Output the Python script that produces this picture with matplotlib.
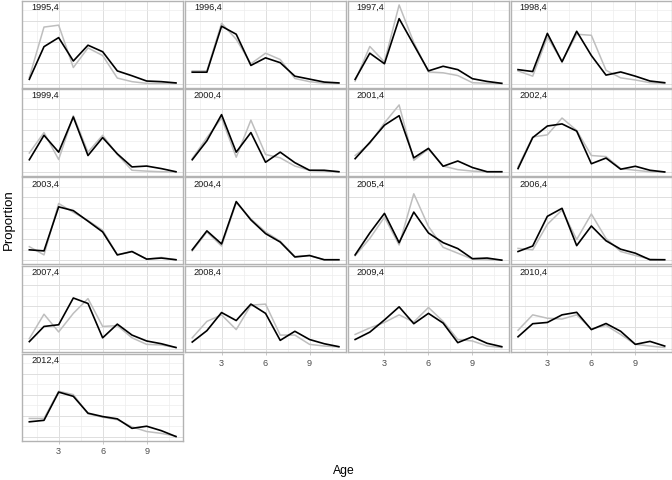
import matplotlib
matplotlib.use("Agg")
import matplotlib.pyplot as plt
from matplotlib.ticker import FixedLocator

plt.rcParams['font.family'] = ['Liberation Sans', 'DejaVu Sans']

ages = [1, 2, 3, 4, 5, 6, 7, 8, 9, 10, 11]
years = ["1995,4", "1996,4", "1997,4", "1998,4", "1999,4", "2000,4", "2001,4", "2002,4",
         "2003,4", "2004,4", "2005,4", "2006,4", "2007,4", "2008,4", "2009,4", "2010,4", "2012,4"]

observed = [
    [0.031, 0.270, 0.279, 0.078, 0.171, 0.135, 0.028, 0.011, 0.003, 0.003, 0.003],
    [0.062, 0.062, 0.288, 0.212, 0.096, 0.146, 0.116, 0.026, 0.011, 0.003, 0.003],
    [0.014, 0.178, 0.104, 0.375, 0.197, 0.057, 0.053, 0.040, 0.006, 0.003, 0.002],
    [0.062, 0.037, 0.223, 0.107, 0.236, 0.231, 0.065, 0.029, 0.019, 0.006, 0.003],
    [0.091, 0.188, 0.060, 0.268, 0.095, 0.175, 0.084, 0.009, 0.005, 0.002, 0.001],
    [0.064, 0.164, 0.257, 0.071, 0.247, 0.084, 0.068, 0.029, 0.009, 0.005, 0.002],
    [0.079, 0.136, 0.234, 0.319, 0.056, 0.110, 0.029, 0.012, 0.005, 0.002, 0.002],
    [0.025, 0.167, 0.177, 0.257, 0.198, 0.079, 0.074, 0.017, 0.009, 0.002, 0.001],
    [0.065, 0.026, 0.270, 0.228, 0.189, 0.143, 0.026, 0.042, 0.006, 0.014, 0.003],
    [0.045, 0.135, 0.068, 0.274, 0.197, 0.135, 0.091, 0.019, 0.023, 0.003, 0.003],
    [0.022, 0.104, 0.205, 0.073, 0.316, 0.161, 0.062, 0.034, 0.006, 0.003, 0.001],
    [0.057, 0.050, 0.171, 0.239, 0.099, 0.220, 0.104, 0.042, 0.023, 0.006, 0.003],
    [0.047, 0.163, 0.079, 0.167, 0.237, 0.105, 0.109, 0.051, 0.020, 0.017, 0.005],
    [0.051, 0.129, 0.160, 0.090, 0.206, 0.211, 0.064, 0.064, 0.020, 0.012, 0.008],
    [0.067, 0.098, 0.124, 0.160, 0.126, 0.195, 0.129, 0.043, 0.036, 0.012, 0.005],
    [0.087, 0.160, 0.144, 0.140, 0.160, 0.093, 0.110, 0.067, 0.020, 0.012, 0.005],
    [0.087, 0.087, 0.216, 0.200, 0.109, 0.093, 0.081, 0.047, 0.025, 0.016, 0.003],
]

predicted = [
    [0.022, 0.177, 0.220, 0.109, 0.184, 0.153, 0.062, 0.039, 0.014, 0.011, 0.005],
    [0.056, 0.056, 0.274, 0.236, 0.088, 0.124, 0.101, 0.037, 0.023, 0.009, 0.005],
    [0.022, 0.146, 0.096, 0.310, 0.186, 0.062, 0.084, 0.068, 0.025, 0.012, 0.003],
    [0.068, 0.059, 0.240, 0.105, 0.250, 0.135, 0.042, 0.057, 0.037, 0.014, 0.006],
    [0.059, 0.175, 0.095, 0.262, 0.079, 0.164, 0.087, 0.025, 0.029, 0.017, 0.002],
    [0.059, 0.149, 0.273, 0.095, 0.188, 0.047, 0.095, 0.045, 0.009, 0.009, 0.002],
    [0.064, 0.141, 0.223, 0.268, 0.068, 0.113, 0.028, 0.053, 0.022, 0.002, 0.002],
    [0.017, 0.164, 0.219, 0.229, 0.195, 0.040, 0.067, 0.014, 0.028, 0.009, 0.001],
    [0.050, 0.045, 0.254, 0.236, 0.186, 0.135, 0.026, 0.042, 0.006, 0.011, 0.003],
    [0.050, 0.140, 0.078, 0.279, 0.192, 0.127, 0.087, 0.016, 0.023, 0.003, 0.003],
    [0.026, 0.130, 0.223, 0.084, 0.229, 0.130, 0.084, 0.056, 0.008, 0.011, 0.001],
    [0.042, 0.068, 0.209, 0.247, 0.070, 0.163, 0.093, 0.053, 0.034, 0.003, 0.003],
    [0.033, 0.105, 0.113, 0.240, 0.214, 0.051, 0.116, 0.064, 0.036, 0.023, 0.005],
    [0.031, 0.085, 0.171, 0.133, 0.211, 0.167, 0.039, 0.082, 0.043, 0.023, 0.009],
    [0.043, 0.078, 0.136, 0.198, 0.118, 0.167, 0.121, 0.028, 0.056, 0.025, 0.009],
    [0.056, 0.118, 0.124, 0.160, 0.172, 0.090, 0.119, 0.082, 0.020, 0.034, 0.012],
    [0.071, 0.078, 0.212, 0.192, 0.112, 0.096, 0.085, 0.040, 0.050, 0.029, 0.001],
]

x_major = [3, 6, 9]
x_minor = [1.5, 4.5, 7.5, 10.5]
y_major = [0.0, 0.1, 0.2, 0.3]
y_minor = [0.05, 0.15, 0.25, 0.35]

W, H = 672, 480
fig = plt.figure(figsize=(W / 100, H / 100), dpi=100)

ncol = 4
left0 = 22.0
gap = 1.6
pw = (W - left0 - (ncol - 1) * gap) / ncol
top0 = 1.0
ph = 86.7
pitch = 88.2

allv = [v for s in observed + predicted for v in s]
ymin, ymax = min(allv), max(allv)
yr = ymax - ymin
ylim = (ymin - 0.05 * yr, ymax + 0.05 * yr)

for i, lab in enumerate(years):
    r, c = divmod(i, ncol)
    x0 = left0 + c * (pw + gap)
    y0 = top0 + r * pitch
    ax = fig.add_axes([x0 / W, 1 - (y0 + ph) / H, pw / W, ph / H])
    ax.set_xlim(0.5, 11.5)
    ax.set_ylim(*ylim)
    ax.xaxis.set_major_locator(FixedLocator(x_major))
    ax.xaxis.set_minor_locator(FixedLocator(x_minor))
    ax.yaxis.set_major_locator(FixedLocator(y_major))
    ax.yaxis.set_minor_locator(FixedLocator(y_minor))
    ax.grid(which='major', color='#DEDEDE', linewidth=0.7)
    ax.grid(which='minor', color='#EDEDED', linewidth=0.5)
    ax.set_axisbelow(True)
    for sp in ax.spines.values():
        sp.set_color('#B3B3B3')
        sp.set_linewidth(1.0)
    ax.tick_params(axis='y', which='both', left=False, labelleft=False)
    ax.tick_params(axis='x', which='minor', bottom=False)
    is_bottom = (i + ncol) >= len(years)
    if is_bottom:
        ax.tick_params(axis='x', which='major', length=2.5, width=0.5, color='#B3B3B3',
                       labelsize=6.6, labelcolor='#4D4D4D', pad=2.5)
    else:
        ax.tick_params(axis='x', which='major', bottom=False, labelbottom=False)
    ax.plot(ages, observed[i], color='#BEBEBE', linewidth=1.1, solid_joinstyle='round')
    ax.plot(ages, predicted[i], color='black', linewidth=1.2, solid_joinstyle='round')
    ax.annotate(lab, xy=(0, 1), xycoords='axes fraction', xytext=(9, -2),
                textcoords='offset pixels', ha='left', va='top', fontsize=6.6,
                color='#1A1A1A')

fig.text(344 / W, 1 - 471 / H, "Age", ha='center', va='center', fontsize=8.7)
fig.text(8.5 / W, 1 - 220 / H, "Proportion", ha='center', va='center', rotation=90, fontsize=9.5)

fig.savefig("out.png", dpi=100)
